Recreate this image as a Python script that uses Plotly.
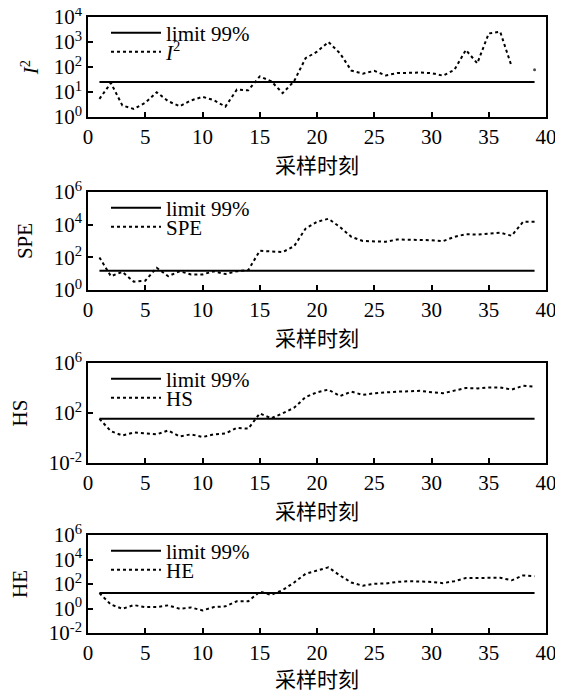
import plotly.graph_objects as go

samples = list(range(1, 40))

t2_values = [5.3, 23, 2.9, 2.1, 3.7, 9.8, 4.3, 2.7, 4.6, 6.4, 4.7, 2.6, 12.5, 11.7, 42, 27, 9, 27,
             224, 410, 1000, 355, 72, 54, 70, 46, 57, 60, 60, 57, 45, 77, 480, 141, 2200, 2560, 105,
             None, 77]
spe_values = [98, 7, 13, 3.2, 3.7, 23, 7, 14, 9, 9, 14, 9.5, 14, 16.6, 250, 220, 210, 480,
              5700, 15000, 23000, 7200, 1800, 1000, 900, 900, 1230, 1230, 1120, 1120, 980, 1800,
              2600, 2450, 2800, 3200, 2100, 15000, 15000]
hs_values = [34, 3.5, 1.6, 2.75, 2.3, 1.95, 4, 1.35, 1.95, 1.2, 1.95, 2.3, 6.5, 5.6, 93, 38, 93, 263,
             1860, 4570, 7400, 2240, 5100, 2800, 3800, 4570, 5100, 5500, 5900, 4570, 3800, 6200,
             10000, 9300, 11200, 11200, 7400, 15000, 12600]
he_values = [18, 2.1, 0.95, 1.9, 1.3, 1.3, 1.8, 0.95, 1.2, 0.7, 1.3, 1.5, 3.9, 3.9, 24, 13, 32, 132,
             680, 1260, 2300, 500, 132, 72, 105, 110, 148, 170, 170, 148, 117, 170, 310, 310, 310,
             320, 200, 500, 420]

limits = [25, 15, 34, 18]
series_names = ["<i>I</i><sup>2</sup>", "SPE", "HS", "HE"]
axis_titles = ["<i>I</i><sup>2</sup>", "SPE", "HS", "HE"]
y_ranges = [[0, 4], [0, 6], [-2, 6], [-2, 6]]
y_tickvals = [[1, 10, 100, 1000, 10000], [1, 100, 10000, 1000000], [0.01, 100, 1000000],
              [0.01, 1, 100, 10000, 1000000]]
y_ticktext = [["10<sup>0</sup>", "10<sup>1</sup>", "10<sup>2</sup>", "10<sup>3</sup>", "10<sup>4</sup>"],
              ["10<sup>0</sup>", "10<sup>2</sup>", "10<sup>4</sup>", "10<sup>6</sup>"],
              ["10<sup>-2</sup>", "10<sup>2</sup>", "10<sup>6</sup>"],
              ["10<sup>-2</sup>", "10<sup>0</sup>", "10<sup>2</sup>", "10<sup>4</sup>", "10<sup>6</sup>"]]
x_tickvals = [0, 5, 10, 15, 20, 25, 30, 35, 40]
x_title = "采样时刻"
limit_label = "limit 99%"

all_values = [t2_values, spe_values, hs_values, he_values]

# page body has an 8px margin, so the figure is laid out 8px up/left of the window
OFF = 8
W, H = 563 - OFF, 693 - OFF
plot_left, plot_right = 88 - OFF, 546 - OFF
panels_px = [(17 - OFF, 117 - OFF), (192 - OFF, 290 - OFF), (363 - OFF, 463 - OFF), (535 - OFF, 633 - OFF)]
title_standoffs = [9, 15, 15, 15]

FONT = "Liberation Serif, Times New Roman, Noto Sans CJK SC, serif"
CJK = "Noto Sans CJK SC, Liberation Serif, serif"

fig = go.Figure()
layout = dict(
    width=W, height=H, margin=dict(l=0, r=0, t=0, b=0, autoexpand=False),
    paper_bgcolor="white", plot_bgcolor="white",
    font=dict(family=FONT, size=19, color="black"),
    showlegend=True,
)

leg_idx = 0


def legend_name(k):
    return "legend" if k == 0 else "legend" + str(k + 1)


for i, vals in enumerate(all_values):
    n = "" if i == 0 else str(i + 1)
    xa, ya = "x" + n, "y" + n
    top, bot = panels_px[i]

    leg_a = legend_name(leg_idx)
    leg_b = legend_name(leg_idx + 1)
    leg_idx += 2

    fig.add_trace(go.Scatter(
        x=[samples[0], samples[-1]], y=[limits[i], limits[i]], mode="lines",
        line=dict(color="black", width=2), name=limit_label,
        xaxis=xa, yaxis=ya, legend=leg_a, showlegend=True))

    sizes = []
    for k, v in enumerate(vals):
        prev_none = k == 0 or vals[k - 1] is None
        next_none = k == len(vals) - 1 or vals[k + 1] is None
        sizes.append(3 if (v is not None and prev_none and next_none) else 0)
    fig.add_trace(go.Scatter(
        x=samples, y=vals, mode="lines+markers",
        line=dict(color="black", width=2, dash="dot"),
        marker=dict(size=sizes, color="black", line=dict(width=0)),
        name=series_names[i], xaxis=xa, yaxis=ya, legend=leg_b, showlegend=True))

    xkey = "xaxis" + n
    ykey = "yaxis" + n
    layout[xkey] = dict(
        domain=[plot_left / W, plot_right / W], anchor=ya, range=[0, 40],
        tickvals=x_tickvals, ticks="inside", ticklen=5, tickwidth=1.5, tickcolor="black",
        showline=True, linecolor="black", linewidth=1.5, mirror=True,
        showgrid=False, zeroline=False, automargin=False, ticklabeloverflow="allow",
        tickfont=dict(family=FONT, size=21, color="black"),
        title=dict(text=x_title, font=dict(family=CJK, size=21, color="black"), standoff=2),
    )
    layout[ykey] = dict(
        domain=[1 - bot / H, 1 - top / H], anchor=xa, type="log", range=y_ranges[i],
        tickvals=y_tickvals[i], ticktext=y_ticktext[i],
        ticks="inside", ticklen=5, tickwidth=1.5, tickcolor="black",
        showline=True, linecolor="black", linewidth=1.5, mirror=True,
        showgrid=False, zeroline=False, automargin=False, ticklabeloverflow="allow",
        tickfont=dict(family=FONT, size=21, color="black"),
        title=dict(text=axis_titles[i], font=dict(family=FONT, size=21, color="black"),
                   standoff=title_standoffs[i]),
    )
    for leg, dy in ((leg_a, 16), (leg_b, 35)):
        layout[leg] = dict(
            x=(106 - OFF) / W, y=1 - (top + dy) / H, xanchor="left", yanchor="middle",
            bgcolor="rgba(0,0,0,0)", borderwidth=0,
            font=dict(family=FONT, size=21, color="black"),
            itemwidth=50,
        )

fig.update_layout(**layout)
fig.write_html("out.html")
